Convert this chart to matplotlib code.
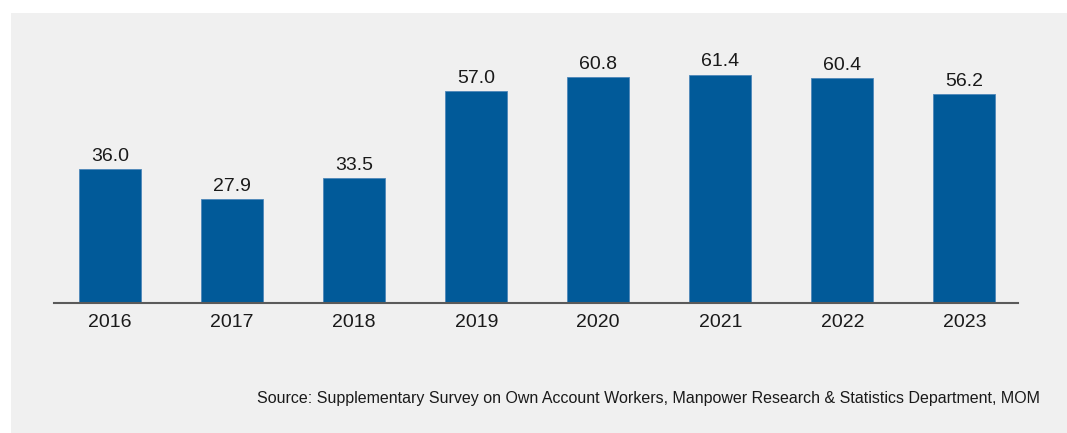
import matplotlib.pyplot as plt
from matplotlib.patches import Rectangle

years = ["2016", "2017", "2018", "2019", "2020", "2021", "2022", "2023"]
values = [36.0, 27.9, 33.5, 57.0, 60.8, 61.4, 60.4, 56.2]
source = ("Source: Supplementary Survey on Own Account Workers, "
          "Manpower Research & Statistics Department, MOM")

plt.rcParams["font.family"] = ["Liberation Sans", "DejaVu Sans"]

W, H = 1067, 433
fig = plt.figure(figsize=(W / 100, H / 100), dpi=100)
fig.patch.set_facecolor("white")

# light grey panel behind the chart
fig.patches.append(Rectangle((11 / W, 0), 1, (H - 13) / H,
                             transform=fig.transFigure, facecolor="#f0f0f0",
                             edgecolor="none", zorder=-1))

ax = fig.add_axes([54 / W, 1 - 303 / H, (1018 - 54) / W, (303 - 42.6) / H])
ax.set_facecolor("none")

x = range(len(years))
bars = ax.bar(x, values, width=0.507, color="#015a99",
              edgecolor="#4d87b9", linewidth=0.6)

for b, v in zip(bars, values):
    ax.annotate(f"{v:.1f}", (b.get_x() + b.get_width() / 2, v),
                xytext=(0, 3), textcoords="offset points",
                ha="center", va="bottom", fontsize=14, color="#1a1a1a")

ax.set_xlim(-0.46, 7.44)
ax.set_ylim(0, 70)
ax.set_xticks(list(x))
ax.set_xticklabels(years, fontsize=14, color="#1a1a1a")
ax.tick_params(axis="x", length=0, pad=8)
ax.set_yticks([])
for side in ["top", "left", "right"]:
    ax.spines[side].set_visible(False)
ax.spines["bottom"].set_color("#5a5a5a")
ax.spines["bottom"].set_linewidth(1.5)

fig.text(1040 / W, 1 - 399 / H, source, ha="right", va="center",
         fontsize=11.55, color="#1a1a1a")

fig.savefig("out.png", dpi=100)
